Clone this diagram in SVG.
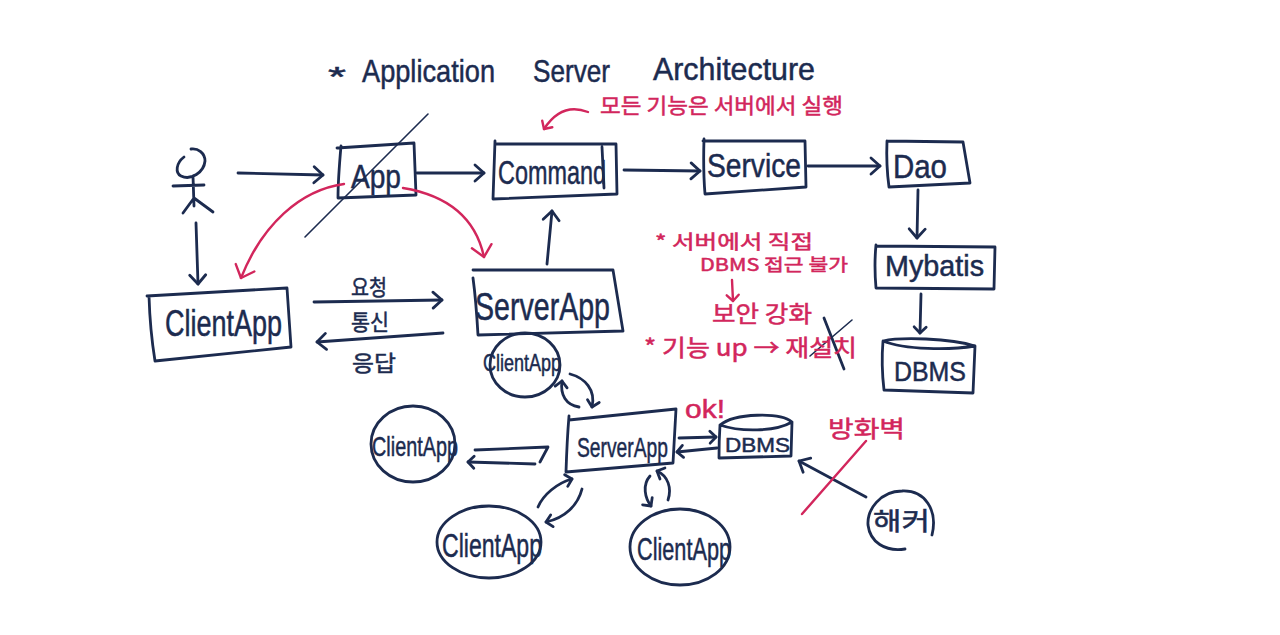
<svg xmlns="http://www.w3.org/2000/svg" width="1280" height="635" viewBox="0 0 1280 635">
<style>
.s{fill:none;stroke:#1c2b4f;stroke-width:2.8;stroke-linecap:round;stroke-linejoin:round}
.t{stroke-width:1.6}
.r{fill:none;stroke:#d2265c;stroke-width:2.4;stroke-linecap:round;stroke-linejoin:round}
text{font-family:"Liberation Sans","Noto Sans CJK KR",sans-serif;fill:#1c2b4f;stroke:#1c2b4f;stroke-width:.5}
.k{font-family:"Noto Sans CJK KR",sans-serif}
.p{fill:#d2265c;stroke:#d2265c}
</style>
<defs>
<marker id="a" markerUnits="userSpaceOnUse" markerWidth="24" markerHeight="24" refX="12" refY="12" orient="auto"><path class="s" d="M3 4L12 12L3 20"/></marker>
<marker id="b" markerUnits="userSpaceOnUse" markerWidth="18" markerHeight="18" refX="9" refY="9" orient="auto"><path class="s" d="M3 3L9 9L3 15"/></marker>
<marker id="c" markerUnits="userSpaceOnUse" markerWidth="28" markerHeight="28" refX="14" refY="14" orient="auto"><path class="r" d="M3 4L14 14L3 24"/></marker>
<marker id="d" markerUnits="userSpaceOnUse" markerWidth="18" markerHeight="18" refX="9" refY="9" orient="auto"><path class="r" d="M3 3L9 9L3 15"/></marker>
</defs>
<rect width="1280" height="635" fill="#fff"/>

<g id="title">
<text x="328" y="86" font-size="28" textLength="18" lengthAdjust="spacingAndGlyphs">*</text>
<text x="362" y="82" font-size="32" textLength="133" lengthAdjust="spacingAndGlyphs">Application</text>
<text x="533" y="82" font-size="32" textLength="77" lengthAdjust="spacingAndGlyphs">Server</text>
<text x="653" y="80" font-size="32" textLength="162" lengthAdjust="spacingAndGlyphs">Architecture</text>
</g>

<g id="user">
<path class="s" d="M184 157C176 163 175 173 181 176C191 181 204 172 205 161C205 153 198 148 191 149M193 176L194 206M173 186L204 185M194 198L183 213M194 198L213 212"/>
</g>
<g id="app">
<path class="s" d="M337 148L414 143L416 195L338 198Q338 180 341 146"/>
<text x="351" y="188" font-size="34" textLength="50" lengthAdjust="spacingAndGlyphs">App</text>
</g>
<g id="command">
<path class="s" d="M495 144L616 144L617 194L493 199Q494 170 495 141M602 147L604 188"/>
<text x="498" y="184" font-size="33" textLength="108" lengthAdjust="spacingAndGlyphs">Command</text>
</g>
<g id="service">
<path class="s" d="M703 141L805 141L806 187L705 194Q703 170 704 139"/>
<text x="707" y="177" font-size="33" textLength="94" lengthAdjust="spacingAndGlyphs">Service</text>
</g>
<g id="dao">
<path class="s" d="M887 141L963 142L970 183L889 187Q886 165 887 141"/>
<text x="893" y="178" font-size="33" textLength="54" lengthAdjust="spacingAndGlyphs">Dao</text>
</g>
<g id="mybatis">
<path class="s" d="M877 246L995 247L994 289L876 288Q874 265 876 245"/>
<text x="885" y="276" font-size="29" textLength="99" lengthAdjust="spacingAndGlyphs">Mybatis</text>
</g>
<g id="dbms">
<path class="s" d="M883 341C905 350 950 350 975 346L973 393L884 390Q881 365 883 341C900 337 950 338 975 346"/>
<text x="894" y="381" font-size="27" textLength="72" lengthAdjust="spacingAndGlyphs">DBMS</text>
</g>
<g id="clientapp">
<path class="s" d="M147 296L287 288L291 347L155 361Q150 330 149 296"/>
<text x="165" y="336" font-size="36" textLength="117" lengthAdjust="spacingAndGlyphs">ClientApp</text>
</g>
<g id="serverapp">
<path class="s" d="M473 270L613 270L623 331L478 335Q476 300 473 278"/>
<text x="475" y="320" font-size="38" textLength="135" lengthAdjust="spacingAndGlyphs">ServerApp</text>
</g>
<g id="clientapp-top">
<ellipse class="s" cx="525" cy="365" rx="35" ry="32"/>
<text x="483" y="371" font-size="24" textLength="78" lengthAdjust="spacingAndGlyphs">ClientApp</text>
</g>
<g id="clientapp-left">
<ellipse class="s" cx="413" cy="444" rx="42" ry="38"/>
<text x="372" y="456" font-size="28" textLength="86" lengthAdjust="spacingAndGlyphs">ClientApp</text>
</g>
<g id="serverapp-small">
<path class="s" d="M569 420L676 409L673 463L566 472Q567 440 569 416"/>
<text x="577" y="457" font-size="28" textLength="91" lengthAdjust="spacingAndGlyphs">ServerApp</text>
</g>
<g id="dbms-small">
<path class="s" d="M720 425C735 413 780 412 792 422L791 456L719 458Q719 440 720 425C740 432 775 432 792 422"/>
<text x="725" y="452" font-size="21" textLength="65" lengthAdjust="spacingAndGlyphs">DBMS</text>
</g>
<g id="clientapp-bl">
<ellipse class="s" cx="489" cy="542" rx="52" ry="36"/>
<text x="442" y="557" font-size="34" textLength="100" lengthAdjust="spacingAndGlyphs">ClientApp</text>
</g>
<g id="clientapp-b">
<ellipse class="s" cx="680" cy="547" rx="50" ry="38"/>
<text x="637" y="560" font-size="32" textLength="94" lengthAdjust="spacingAndGlyphs">ClientApp</text>
</g>
<g id="hacker">
<path class="s" d="M932 535C938 510 925 490 902 491C880 491 867 510 868 525C870 542 885 552 905 549"/>
<text class="k" x="873" y="530" font-size="25" textLength="57" lengthAdjust="spacingAndGlyphs">해커</text>
</g>

<g id="connectors">
<path class="s" d="M238 173L323 175" marker-end="url(#a)"/>
<path class="s" d="M417 173L484 173" marker-end="url(#a)"/>
<path class="s" d="M624 170L700 171" marker-end="url(#a)"/>
<path class="s" d="M808 166L880 166" marker-end="url(#a)"/>
<path class="s" d="M918 190L917 238" marker-end="url(#a)"/>
<path class="s" d="M921 294L920 333" marker-end="url(#b)"/>
<path class="s" d="M196 223L198 284" marker-end="url(#a)"/>
<path class="s" d="M547 264L552 211" marker-end="url(#a)"/>
<path class="s" d="M314 302L442 300" marker-end="url(#a)"/>
<path class="s" d="M443 333L317 342" marker-end="url(#a)"/>
<path class="s" d="M570 374C585 378 596 390 592 407" marker-end="url(#b)"/>
<path class="s" d="M579 407C566 405 560 395 562 381" marker-end="url(#b)"/>
<path class="s" d="M475 450L548 447L540 462"/>
<path class="s" d="M535 464L468 462" marker-end="url(#b)"/>
<path class="s" d="M679 438L716 437" marker-end="url(#b)"/>
<path class="s" d="M717 448L677 452" marker-end="url(#b)"/>
<path class="s" d="M538 507C543 495 557 483 572 479" marker-end="url(#b)"/>
<path class="s" d="M582 489C578 505 565 518 546 522" marker-end="url(#b)"/>
<path class="s" d="M650 476C642 485 645 498 651 506" marker-end="url(#b)"/>
<path class="s" d="M668 500C672 488 668 476 657 471" marker-end="url(#b)"/>
<path class="s" d="M866 497L799 461" marker-end="url(#a)"/>
<path class="r" d="M344 184C300 190 262 225 241 278" marker-end="url(#c)"/>
<path class="r" d="M403 188C445 195 475 215 484 257" marker-end="url(#c)"/>
<path class="r" d="M588 112C570 105 555 112 544 129" marker-end="url(#d)"/>
<path class="r" d="M732 280L733 301" marker-end="url(#d)"/>
</g>

<g id="marks">
<path class="s t" d="M428 114L305 237"/>
<path class="s t" d="M852 320L810 356"/>
<path class="s" d="M824 318L844 369"/>
<path class="r t" d="M866 441L802 514"/>
</g>

<g id="labels">
<text class="k" x="351" y="295" font-size="22" textLength="36" lengthAdjust="spacingAndGlyphs">요청</text>
<text class="k" x="351" y="330" font-size="22" textLength="38" lengthAdjust="spacingAndGlyphs">통신</text>
<text class="k" x="352" y="371" font-size="22" textLength="44" lengthAdjust="spacingAndGlyphs">응답</text>
<text class="k p" x="600" y="113" font-size="21" textLength="243" lengthAdjust="spacingAndGlyphs">모든 기능은 서버에서 실행</text>
<text class="k p" x="655" y="249" font-size="19" textLength="158" lengthAdjust="spacingAndGlyphs">* 서버에서 직접</text>
<text class="k p" x="700" y="271" font-size="17" textLength="148" lengthAdjust="spacingAndGlyphs">DBMS 접근 불가</text>
<text class="k p" x="712" y="322" font-size="23" textLength="100" lengthAdjust="spacingAndGlyphs">보안 강화</text>
<text class="k p" x="644" y="356" font-size="23" textLength="213" lengthAdjust="spacingAndGlyphs">* 기능 up → 재설치</text>
<text class="p" x="685" y="418" font-size="26" textLength="40" lengthAdjust="spacingAndGlyphs">ok!</text>
<text class="k p" x="828" y="437" font-size="23" textLength="77" lengthAdjust="spacingAndGlyphs">방화벽</text>
</g>
</svg>
